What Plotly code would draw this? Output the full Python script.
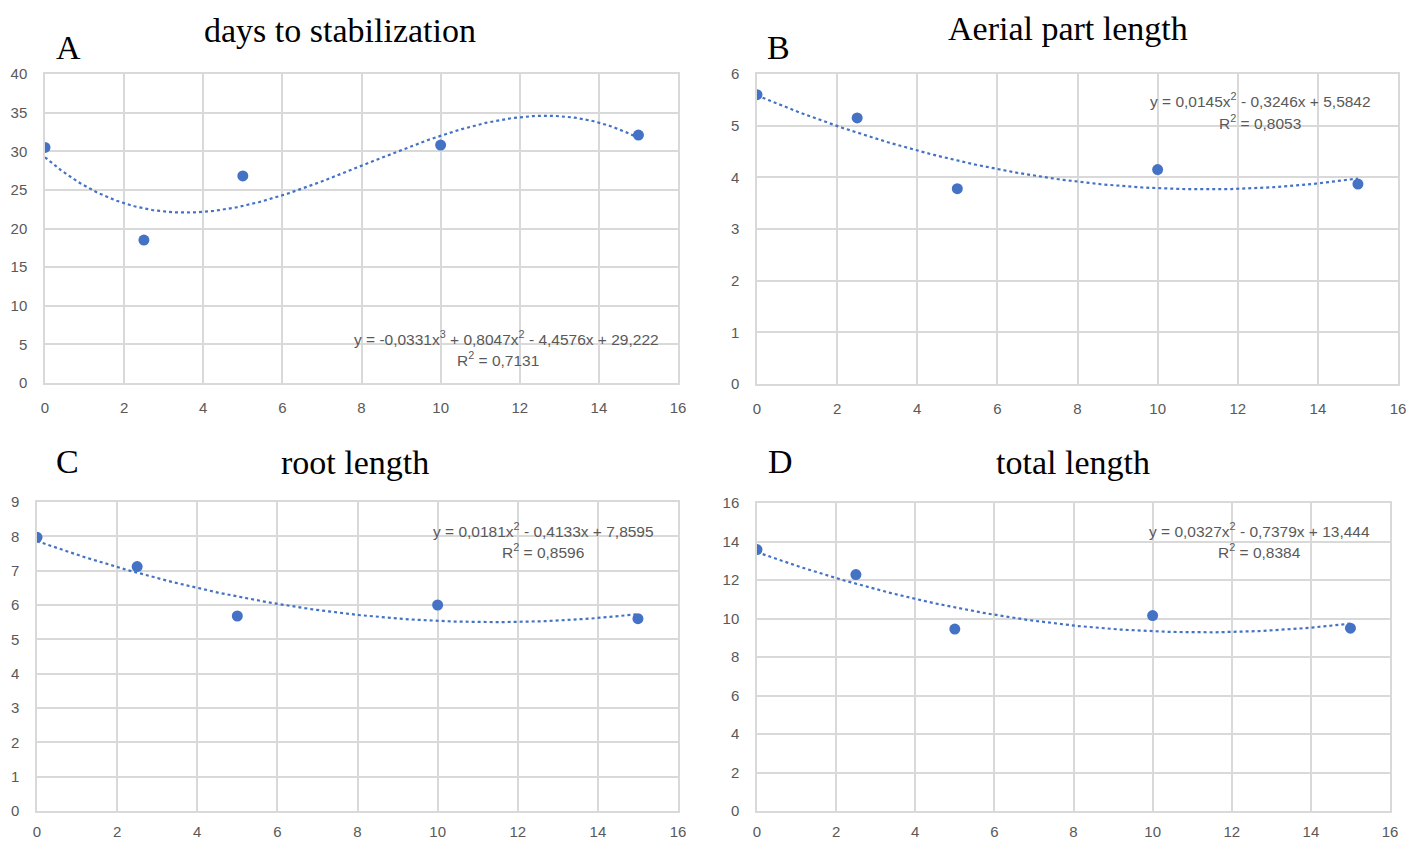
import numpy as np
import plotly.graph_objects as go

# ---- data ----
x_vals = [0, 2.5, 5, 10, 15]

days_y = [30.5, 18.5, 26.8, 30.8, 32.1]
aerial_y = [5.6, 5.15, 3.78, 4.15, 3.87]
root_y = [7.97, 7.12, 5.68, 6.0, 5.6]
total_y = [13.58, 12.28, 9.45, 10.15, 9.5]

# trendline coefficients as displayed (highest power first)
days_coef = [-0.0331, 0.8047, -4.4576, 29.222]
aerial_coef = [0.0145, -0.3246, 5.5842]
root_coef = [0.0181, -0.4133, 7.8595]
total_coef = [0.0327, -0.7379, 13.444]

titles = ["days to stabilization", "Aerial part length", "root length", "total length"]
letters = ["A", "B", "C", "D"]
eq_texts = [
    "y = -0,0331x<sup>3</sup> + 0,8047x<sup>2</sup> - 4,4576x + 29,222",
    "y = 0,0145x<sup>2</sup> - 0,3246x + 5,5842",
    "y = 0,0181x<sup>2</sup> - 0,4133x + 7,8595",
    "y = 0,0327x<sup>2</sup> - 0,7379x + 13,444",
]
r2_texts = ["R<sup>2</sup> = 0,7131", "R<sup>2</sup> = 0,8053", "R<sup>2</sup> = 0,8596", "R<sup>2</sup> = 0,8384"]
y_ranges = [[0, 40], [0, 6], [0, 9], [0, 16]]
y_dticks = [5, 1, 1, 2]

# ---- layout geometry (pixels) ----
W, H = 1422, 841
# (x0, x16, ytop, ybottom)
boxes = [
    (45, 678, 74, 383),
    (757, 1398, 74, 384),
    (37, 678, 502, 811),
    (757, 1390, 503, 811),
]
x_standoffs = [10, 10, 6, 6]
title_pos = [(340, 30), (1068, 28), (355, 462), (1073, 462)]
letter_pos = [(68, 47), (778, 47), (67, 461), (780, 461)]
eq_pos = [(507, 338), (1260, 100), (543, 530), (1259, 530)]
r2_pos = [(498, 359), (1260, 122), (543, 551), (1259, 551)]

series = [days_y, aerial_y, root_y, total_y]
coefs = [days_coef, aerial_coef, root_coef, total_coef]

BLUE = "#4472C4"
GRID = "#d9d9d9"
TXT = "#595959"

fig = go.Figure()
annotations = []

for i in range(4):
    sfx = "" if i == 0 else str(i + 1)
    xa = "x" + sfx
    ya = "y" + sfx
    xt = np.linspace(0, 15, 300)
    yt = np.polyval(coefs[i], xt)
    fig.add_trace(go.Scatter(x=xt, y=yt, mode="lines", xaxis=xa, yaxis=ya,
                             line=dict(color=BLUE, width=2.2, dash="dot"),
                             showlegend=False, hoverinfo="skip"))
    fig.add_trace(go.Scatter(x=x_vals, y=series[i], mode="markers", xaxis=xa, yaxis=ya,
                             marker=dict(color=BLUE, size=11),
                             showlegend=False))
    x0, x16, yt_px, yb_px = boxes[i]
    axis_common = dict(showgrid=True, gridcolor=GRID, gridwidth=1.5,
                       showline=True, linecolor=GRID, linewidth=1.5, mirror=True,
                       zeroline=False, ticks="", automargin=False,
                       tickfont=dict(family="Liberation Sans", size=15, color=TXT))
    fig.layout["xaxis" + sfx] = dict(domain=[x0 / W, x16 / W], range=[0, 16], dtick=2,
                                     anchor=ya, ticklabelstandoff=x_standoffs[i], **axis_common)
    fig.layout["yaxis" + sfx] = dict(domain=[1 - yb_px / H, 1 - yt_px / H], range=y_ranges[i],
                                     dtick=y_dticks[i], anchor=xa, ticklabelstandoff=13,
                                     **axis_common)
    tx, ty = title_pos[i]
    annotations.append(dict(text=titles[i], x=tx / W, y=1 - ty / H, xref="paper", yref="paper",
                            showarrow=False, xanchor="center", yanchor="middle",
                            font=dict(family="Liberation Serif", size=34, color="black")))
    lx, ly = letter_pos[i]
    annotations.append(dict(text=letters[i], x=lx / W, y=1 - ly / H, xref="paper", yref="paper",
                            showarrow=False, xanchor="center", yanchor="middle",
                            font=dict(family="Liberation Serif", size=34, color="black")))
    ex, ey = eq_pos[i]
    annotations.append(dict(text=eq_texts[i], x=ex / W, y=1 - ey / H, xref="paper", yref="paper",
                            showarrow=False, xanchor="center", yanchor="middle",
                            font=dict(family="Liberation Sans", size=15.5, color=TXT)))
    rx, ry = r2_pos[i]
    annotations.append(dict(text=r2_texts[i], x=rx / W, y=1 - ry / H, xref="paper", yref="paper",
                            showarrow=False, xanchor="center", yanchor="middle",
                            font=dict(family="Liberation Sans", size=15.5, color=TXT)))

fig.update_layout(width=W, height=H, margin=dict(l=0, r=0, t=0, b=0, autoexpand=False),
                  plot_bgcolor="white", paper_bgcolor="white",
                  annotations=annotations, showlegend=False)

fig.write_html(
    "out.html",
    config={"displayModeBar": False},
    post_script=("document.documentElement.style.margin='0';"
                 "document.documentElement.style.overflow='hidden';"
                 "document.body.style.margin='0';"
                 "document.body.style.overflow='hidden';"),
)
